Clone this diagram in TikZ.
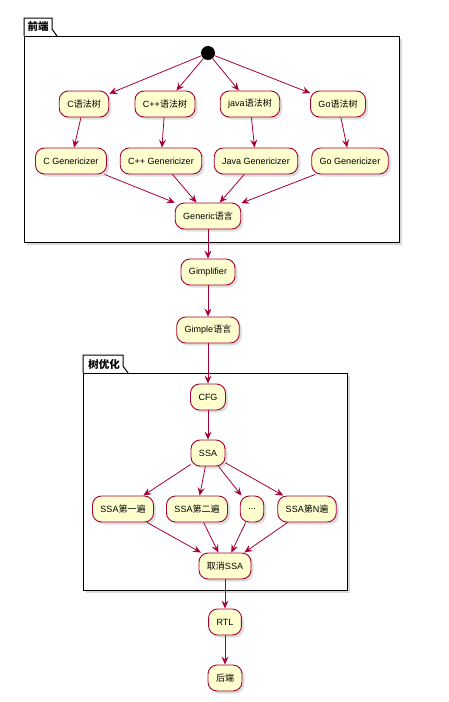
\documentclass[tikz,border=0pt]{standalone}
\usepackage{fontspec}
\setmainfont{Liberation Sans}
\newfontfamily\zhfont{Noto Sans CJK SC}
\newcommand{\zh}[1]{{\zhfont #1}}
\usetikzlibrary{arrows.meta,shadows}
\definecolor{umlred}{HTML}{A80036}
\definecolor{umlfill}{HTML}{FEFECE}

\begin{document}
\begin{tikzpicture}[x=1pt, y=-1pt,
  every node/.style={font=\fontsize{9}{10}\selectfont},
  act/.style={draw=umlred, fill=umlfill, rounded corners=9pt, minimum height=26pt,
    inner xsep=8pt, line width=0.9pt,
    drop shadow={opacity=0.25, shadow xshift=2.5pt, shadow yshift=-2.5pt}},
  flow/.style={-{Stealth[length=8pt, width=7pt, inset=3pt]}, draw=umlred, line width=0.8pt},
  pkg/.style={draw=black, fill=white, line width=1pt,
    drop shadow={opacity=0.3, shadow xshift=3pt, shadow yshift=-3pt}},
  pkgtitle/.style={font=\zhfont\bfseries\fontsize{10.5}{12}\selectfont, inner sep=0pt}]
  \useasboundingbox (0,0) rectangle (448,702);

  % packages
  \path[pkg] (24,36) rectangle (399,242);
  \draw[line width=1pt] (24,36) -- (24,18) -- (52,18) -- (52,29) -- (57,36);
  \node[pkgtitle] (front) at (38,27) {前端};
  \path[pkg] (83,373) rectangle (347,590);
  \draw[line width=1pt] (83,373) -- (83,355) -- (123,355) -- (123,366) -- (128,373);
  \node[pkgtitle] (treeopt) at (104,364) {树优化};

  % front end
  \node[circle, fill=black, minimum size=14pt, inner sep=0pt] (start) at (208,53) {};
  \node[act] (cast)    at (84,104)  {C\zh{语法树}};
  \node[act] (cppast)  at (165,104) {C++\zh{语法树}};
  \node[act] (javaast) at (250,104) {java\zh{语法树}};
  \node[act] (goast)   at (338,104) {Go\zh{语法树}};
  \node[act] (cgen)    at (71,161)  {C Genericizer};
  \node[act] (cppgen)  at (161,161) {C++ Genericizer};
  \node[act] (javagen) at (256,161) {Java Genericizer};
  \node[act] (gogen)   at (350,161) {Go Genericizer};
  \node[act] (generic) at (208,216) {Generic\zh{语言}};

  \node[act] (gimplifier) at (208,272) {Gimplifier};
  \node[act] (gimple)     at (208,330) {Gimple\zh{语言}};

  % tree optimisation
  \node[act] (cfg)    at (208,397) {CFG};
  \node[act] (ssa)    at (208,453) {SSA};
  \node[act] (pass1)  at (123,509) {SSA\zh{第一遍}};
  \node[act] (pass2)  at (197,509) {SSA\zh{第二遍}};
  \node[act] (dots)   at (252,509) {...};
  \node[act] (passn)  at (307,509) {SSA\zh{第}N\zh{遍}};
  \node[act] (outssa) at (225,566) {\zh{取消}SSA};

  \node[act] (rtl)  at (225,622) {RTL};
  \node[act] (back) at (225,678) {\zh{后端}};

  \foreach \a/\b in {start/cast, start/cppast, start/javaast, start/goast,
      cast/cgen, cppast/cppgen, javaast/javagen, goast/gogen,
      cgen/generic, cppgen/generic, javagen/generic, gogen/generic,
      generic/gimplifier, gimplifier/gimple, gimple/cfg, cfg/ssa,
      ssa/pass1, ssa/pass2, ssa/dots, ssa/passn,
      pass1/outssa, pass2/outssa, dots/outssa, passn/outssa,
      outssa/rtl, rtl/back}
    \draw[flow] (\a) -- (\b);
\end{tikzpicture}
\end{document}
